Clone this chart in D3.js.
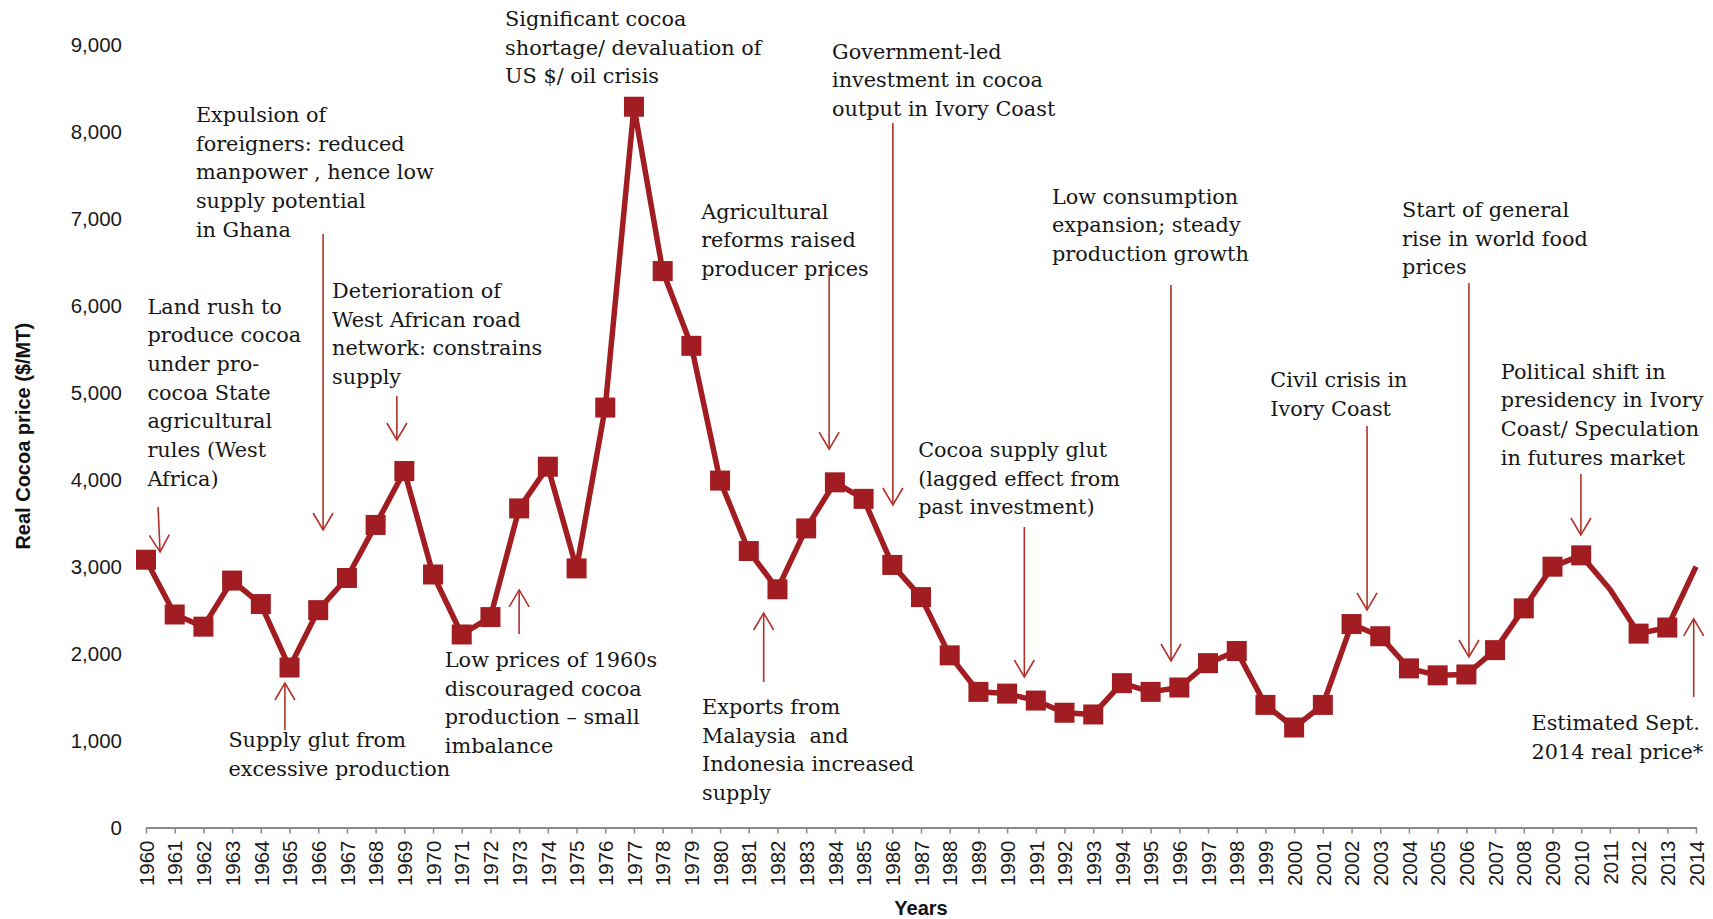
<!DOCTYPE html>
<html>
<head>
<meta charset="utf-8">
<script src="https://cdn.jsdelivr.net/npm/d3@7"></script>
<style>
  html, body { margin: 0; padding: 0; background: #fff; }
  svg { display: block; }
</style>
</head>
<body>
<svg id="chart" width="1713" height="919"></svg>
<script>
'use strict';

// categories
const years = [1960, 1961, 1962, 1963, 1964, 1965, 1966, 1967, 1968, 1969,
    1970, 1971, 1972, 1973, 1974, 1975, 1976, 1977, 1978, 1979,
    1980, 1981, 1982, 1983, 1984, 1985, 1986, 1987, 1988, 1989,
    1990, 1991, 1992, 1993, 1994, 1995, 1996, 1997, 1998, 1999,
    2000, 2001, 2002, 2003, 2004, 2005, 2006, 2007, 2008, 2009,
    2010, 2011, 2012, 2013, 2014];

// real cocoa price, $/MT
const prices = [3080, 2450, 2310, 2840, 2570, 1840, 2500, 2870, 3480, 4100,
    2910, 2220, 2420, 3670, 4150, 2980, 4830, 8290, 6400, 5540,
    3990, 3180, 2740, 3440, 3970, 3780, 3020, 2650, 1980, 1560,
    1540, 1460, 1320, 1300, 1660, 1560, 1610, 1890, 2030, 1410,
    1150, 1410, 2340, 2200, 1830, 1750, 1760, 2040, 2520, 3000,
    3130, 2740, 2230, 2300, 3000];

// years drawn without a square marker
const noMarkerYears = [2011, 2014];

const yTicks = [0, 1000, 2000, 3000, 4000, 5000, 6000, 7000, 8000, 9000];

// annotation text + arrows, placed in data units (year, price)
// arrow: [yearFrom, priceFrom, yearTo, priceTo]
const annotations = [
    {lines: ["Land rush to", "produce cocoa", "under pro-", "cocoa State", "agricultural", "rules (West", "Africa)"],
        at: [1960.05, 5990], arrow: [1960.42, 3686, 1960.49, 3169]},
    {lines: ["Expulsion of", "foreigners: reduced", "manpower , hence low", "supply potential", "in Ghana"],
        at: [1961.74, 8195], arrow: [1966.17, 6826, 1966.17, 3422]},
    {lines: ["Deterioration of", "West African road", "network: constrains", "supply"],
        at: [1966.48, 6171], arrow: [1968.74, 4963, 1968.74, 4457]},
    {lines: ["Supply glut from", "excessive production"],
        at: [1962.87, 1006], arrow: [1964.84, 1121, 1964.84, 1662]},
    {lines: ["Low prices of 1960s", "discouraged cocoa", "production \u2013 small", "imbalance"],
        at: [1970.41, 1927], arrow: [1973.0, 2226, 1973.0, 2732]},
    {lines: ["Significant cocoa", "shortage/ devaluation of", "US $/ oil crisis"],
        at: [1972.51, 9299], arrow: null},
    {lines: ["Government-led", "investment in cocoa", "output in Ivory Coast"],
        at: [1983.9, 8923], arrow: [1986.02, 8103, 1986.02, 3709]},
    {lines: ["Agricultural", "reforms raised", "producer prices"],
        at: [1979.34, 7083], arrow: [1983.8, 6435, 1983.8, 4352]},
    {lines: ["Cocoa supply glut", "(lagged effect from", "past investment)"],
        at: [1986.9, 4342], arrow: [1990.6, 3456, 1990.6, 1731]},
    {lines: ["Exports from", "Malaysia  and", "Indonesia increased", "supply"],
        at: [1979.37, 1386], arrow: [1981.52, 1673, 1981.52, 2467]},
    {lines: ["Low consumption", "expansion; steady", "production growth"],
        at: [1991.56, 7255], arrow: [1995.71, 6240, 1995.71, 1915]},
    {lines: ["Start of general", "rise in world food", "prices"],
        at: [2003.76, 7102], arrow: [2006.09, 6263, 2006.09, 1961]},
    {lines: ["Civil crisis in", "Ivory Coast"],
        at: [1999.17, 5147], arrow: [2002.54, 4618, 2002.54, 2502]},
    {lines: ["Political shift in", "presidency in Ivory", "Coast/ Speculation", "in futures market"],
        at: [2007.2, 5242], arrow: [2009.99, 4066, 2009.99, 3364]},
    {lines: ["Estimated Sept.", "2014 real price*"],
        at: [2008.27, 1202], arrow: [2013.92, 1501, 2013.92, 2399]}
];

const lineColor = "#a21d21";
const arrowColor = "#b3302a";

const svg = d3.select("#chart");

const x = d3.scaleLinear().domain([1960, 2014]).range([146, 1696]);
const y = d3.scaleLinear().domain([0, 9000]).range([827.5, 45]);

const data = years.map(function (yr, i) {
    return {year: yr, price: prices[i]};
});

// x axis
const xAxis = svg.append("g")
    .attr("transform", "translate(0," + y(0) + ")")
    .call(d3.axisBottom(x)
        .tickValues(years)
        .tickFormat(d3.format("d"))
        .tickSize(6)
        .tickSizeOuter(0));
xAxis.select(".domain").attr("stroke", "#8a8a8a").attr("stroke-width", 2);
xAxis.selectAll(".tick line").attr("stroke", "#8a8a8a").attr("stroke-width", 1.5);
xAxis.selectAll(".tick text")
    .attr("transform", "rotate(-90)")
    .attr("text-anchor", "end")
    .attr("x", -13)
    .attr("y", 0)
    .attr("dy", "0.35em")
    .attr("fill", "#1a1a1a")
    .style("font-family", "'Liberation Sans', Arial, sans-serif")
    .style("font-size", "20.5px");

// y axis (labels only)
const yAxis = svg.append("g")
    .attr("transform", "translate(128,0)")
    .call(d3.axisLeft(y)
        .tickValues(yTicks)
        .tickFormat(d3.format(","))
        .tickSize(0)
        .tickPadding(6));
yAxis.select(".domain").remove();
yAxis.selectAll(".tick text")
    .attr("fill", "#1a1a1a")
    .style("font-family", "'Liberation Sans', Arial, sans-serif")
    .style("font-size", "20.5px");

// axis titles
svg.append("text")
    .attr("transform", "translate(30," + y(4500) + ") rotate(-90)")
    .attr("text-anchor", "middle")
    .attr("fill", "#111")
    .style("font-family", "'Liberation Sans', Arial, sans-serif")
    .style("font-size", "20px")
    .style("font-weight", "bold")
    .text("Real Cocoa price ($/MT)");

svg.append("text")
    .attr("x", x(1987.0))
    .attr("y", 915)
    .attr("text-anchor", "middle")
    .attr("fill", "#111")
    .style("font-family", "'Liberation Sans', Arial, sans-serif")
    .style("font-size", "20px")
    .style("font-weight", "bold")
    .text("Years");

// price line
const line = d3.line()
    .x(function (d) { return x(d.year); })
    .y(function (d) { return y(d.price); });

svg.append("path")
    .datum(data)
    .attr("fill", "none")
    .attr("stroke", lineColor)
    .attr("stroke-width", 5.5)
    .attr("stroke-linejoin", "round")
    .attr("d", line);

// square markers
const size = 20;
svg.append("g").selectAll("rect")
    .data(data.filter(function (d) { return noMarkerYears.indexOf(d.year) < 0; }))
    .join("rect")
    .attr("x", function (d) { return x(d.year) - size / 2; })
    .attr("y", function (d) { return y(d.price) - size / 2; })
    .attr("width", size)
    .attr("height", size)
    .attr("fill", lineColor);

// annotations
const annG = svg.append("g");
const lineH = 28.7;

annotations.forEach(function (a) {
    const t = annG.append("text")
        .attr("x", x(a.at[0]))
        .attr("y", y(a.at[1]))
        .attr("fill", "#161616")
        .attr("xml:space", "preserve")
        .style("font-family", "'DejaVu Serif', 'Liberation Serif', serif")
        .style("font-size", "20.8px");
    a.lines.forEach(function (s, i) {
        t.append("tspan")
            .attr("x", x(a.at[0]))
            .attr("dy", i === 0 ? "0.33em" : lineH)
            .style("white-space", "pre")
            .text(s);
    });

    if (!a.arrow) return;
    const x1 = x(a.arrow[0]), y1 = y(a.arrow[1]);
    const x2 = x(a.arrow[2]), y2 = y(a.arrow[3]);
    annG.append("line")
        .attr("x1", x1).attr("y1", y1)
        .attr("x2", x2).attr("y2", y2)
        .attr("stroke", arrowColor)
        .attr("stroke-width", 1.6);

    // open chevron head at the tip
    const len = Math.hypot(x2 - x1, y2 - y1);
    const ux = (x2 - x1) / len, uy = (y2 - y1) / len;
    const hl = 17, hw = 10;
    const bx = x2 - ux * hl, by = y2 - uy * hl;
    annG.append("path")
        .attr("d", "M" + (bx - uy * hw) + "," + (by + ux * hw) +
            "L" + x2 + "," + y2 +
            "L" + (bx + uy * hw) + "," + (by - ux * hw))
        .attr("fill", "none")
        .attr("stroke", arrowColor)
        .attr("stroke-width", 1.6);
});
</script>
</body>
</html>
